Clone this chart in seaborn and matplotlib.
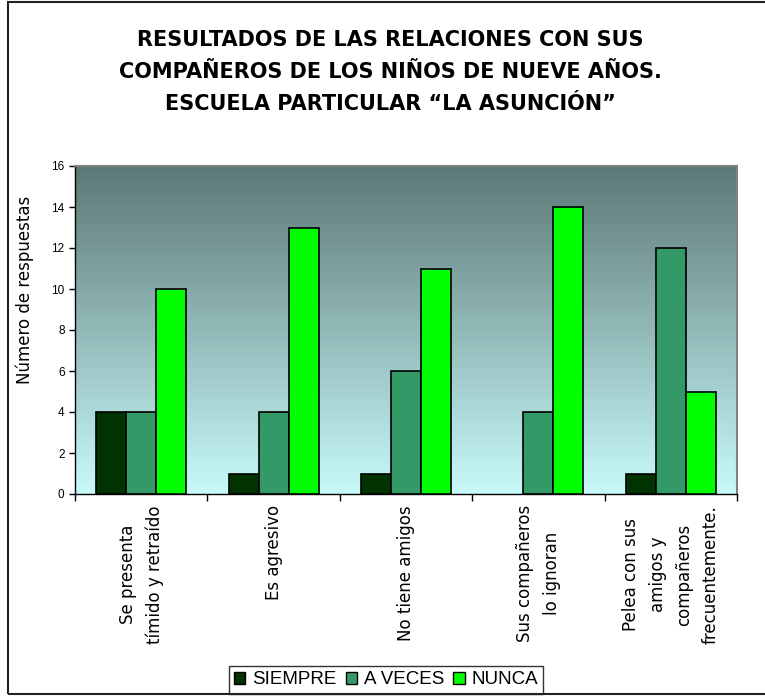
import numpy as np
import pandas as pd
import matplotlib
matplotlib.use("Agg")
import matplotlib.pyplot as plt
import matplotlib.patches as mpatches
import seaborn as sns

categories = [
    "Se presenta\ntímido y retraído",
    "Es agresivo",
    "No tiene amigos",
    "Sus compañeros\nlo ignoran",
    "Pelea con sus\namigos y\ncompañeros\nfrecuentemente.",
]
series = ["SIEMPRE", "A VECES", "NUNCA"]
siempre = [4, 1, 1, 0, 1]
a_veces = [4, 4, 6, 4, 12]
nunca = [10, 13, 11, 14, 5]
colors = ["#003300", "#339966", "#00ff00"]
yticks = [0, 2, 4, 6, 8, 10, 12, 14, 16]

df = pd.DataFrame({
    "categoria": categories * 3,
    "serie": [s for s in series for _ in categories],
    "valor": siempre + a_veces + nunca,
})

sns.set_style("white")
plt.rcParams["font.family"] = ["DejaVu Sans"]
plt.rcParams.update({
    "text.color": "black",
    "axes.labelcolor": "black",
    "xtick.color": "black",
    "ytick.color": "black",
})

W, H = 765, 696
fig = plt.figure(figsize=(W / 100, H / 100), dpi=100)
ax = fig.add_axes([75 / W, 1 - 494 / H, (737 - 75) / W, (494 - 166) / H])

sns.barplot(data=df, x="categoria", y="valor", hue="serie", order=categories,
            hue_order=series, palette=colors, width=0.68, edgecolor="black",
            linewidth=1.2, saturation=1, ax=ax, zorder=3)

# zero-height bars leave no outline
for p in ax.patches:
    if p.get_height() == 0:
        p.set_linewidth(0)

# vertical gradient background behind the bars
top = np.array([92, 120, 118]) / 255
bottom = np.array([200, 250, 250]) / 255
t = np.linspace(0, 1, 256)[:, None]
grad = (top * (1 - t) + bottom * t)[:, None, :]
ax.imshow(grad, extent=[-0.5, 4.5, 0, 16], aspect="auto", zorder=0,
          interpolation="bilinear")

ax.set_xlim(-0.5, 4.5)
ax.set_ylim(0, 16)
ax.set_yticks(yticks)
ax.set_yticklabels([str(v) for v in yticks], fontsize=8.5,
                   family="Liberation Sans")
ax.set_xticks([i - 0.5 for i in range(6)])
ax.set_xticklabels([""] * 6)
ax.set_xticks(range(5), minor=True)
ax.set_xticklabels(categories, minor=True, rotation=90, fontsize=12,
                   ha="center", va="top", multialignment="center",
                   linespacing=1.6)
ax.tick_params(axis="x", which="minor", length=0, pad=8)
ax.tick_params(axis="x", which="major", length=5, width=1, direction="out",
               color="black", bottom=True)
ax.tick_params(axis="y", length=4.5, width=1, direction="out", color="black",
               left=True, pad=3)
ax.set_xlabel("")
ax.set_ylabel("")

for side in ["left", "bottom"]:
    ax.spines[side].set_color("black")
    ax.spines[side].set_linewidth(1)
for side in ["top", "right"]:
    ax.spines[side].set_color("#808080")
    ax.spines[side].set_linewidth(1.5)

fig.text(25 / W, 1 - 290 / H, "Número de respuestas", rotation=90,
         ha="center", va="center", fontsize=12)

leg = ax.legend(loc="lower center", bbox_to_anchor=(386 / W, 2 / H),
                bbox_transform=fig.transFigure, ncol=3, frameon=True,
                fancybox=False, edgecolor="black",
                prop={"family": "Liberation Sans", "size": 13.5},
                handlelength=0.6, handleheight=0.6, handletextpad=0.35,
                columnspacing=0.5, borderpad=0.3, borderaxespad=0)
leg.get_frame().set_linewidth(1)
for h in leg.legend_handles:
    h.set_edgecolor("black")
    h.set_linewidth(1)

fig.text(390 / W, 1 - 72 / H,
         "RESULTADOS DE LAS RELACIONES CON SUS\n"
         "COMPAÑEROS DE LOS NIÑOS DE NUEVE AÑOS.\n"
         "ESCUELA PARTICULAR \u201cLA ASUNCIÓN\u201d",
         ha="center", va="center", fontsize=15, fontweight="bold",
         linespacing=1.75, color="black")

# outer chart frame
frame = mpatches.Rectangle((8 / W, 2 / H), 1.0, 692 / H,
                           transform=fig.transFigure, fill=False,
                           edgecolor="#222222", linewidth=1.5, clip_on=False)
fig.patches.append(frame)

fig.savefig("out.png", dpi=100)
